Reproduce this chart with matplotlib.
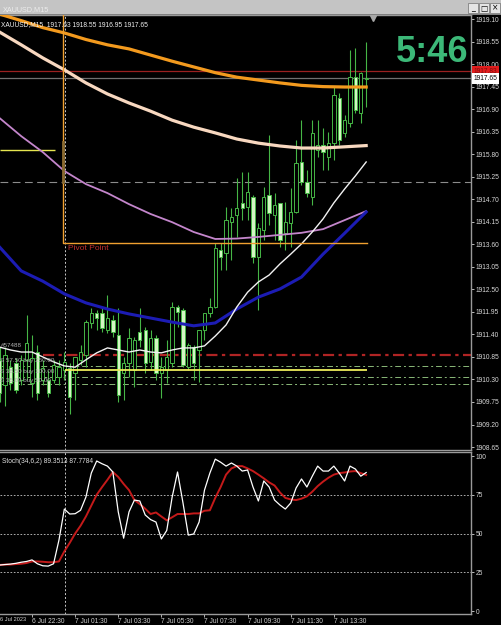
import matplotlib.pyplot as plt
import matplotlib.transforms as mtransforms
from matplotlib.patches import Rectangle
import numpy as np

plt.rcParams['font.family'] = ['Liberation Sans', 'DejaVu Sans']

# XAUUSD M15 candles, bar 0 = 6 Jul 21:00 ... bar 68 = 7 Jul 15:00
opens = [1910.78, 1910.17, 1910.60, 1910.70, 1910.29, 1910.78, 1910.21, 1910.97, 1910.29, 1910.29,
         1910.29, 1910.36, 1910.53, 1910.58, 1910.46, 1910.78, 1910.90, 1911.68, 1911.92, 1911.92,
         1911.51, 1911.75, 1911.39, 1910.46, 1910.70, 1910.53, 1911.46, 1911.51, 1910.73, 1911.31,
         1910.46, 1910.53, 1910.70, 1912.07, 1912.00, 1910.60, 1911.09, 1911.02, 1911.51, 1911.92,
         1912.07, 1913.46, 1913.39, 1914.14, 1914.31, 1914.61, 1914.51, 1914.76, 1913.29, 1913.95,
         1914.80, 1914.31, 1914.61, 1913.88, 1914.12, 1914.39, 1915.61, 1915.12, 1914.76, 1915.90,
         1916.02, 1915.73, 1916.07, 1917.17, 1916.32, 1916.56, 1917.68, 1916.80, 1917.63]
highs = [1911.09, 1911.09, 1910.78, 1910.82, 1910.90, 1911.87, 1911.39, 1911.14, 1910.78, 1910.53,
         1910.78, 1910.78, 1910.97, 1910.70, 1910.85, 1911.14, 1911.75, 1912.04, 1912.00, 1912.04,
         1912.36, 1911.87, 1912.04, 1910.85, 1911.56, 1911.34, 1912.04, 1911.58, 1911.51, 1911.39,
         1910.85, 1911.26, 1912.19, 1912.12, 1912.04, 1911.19, 1911.14, 1911.51, 1911.92, 1912.29,
         1913.63, 1913.63, 1914.51, 1914.49, 1915.22, 1915.37, 1915.37, 1914.80, 1914.12, 1915.00,
         1916.27, 1914.85, 1914.61, 1914.63, 1914.97, 1916.15, 1916.63, 1915.41, 1916.63, 1916.63,
         1916.44, 1916.34, 1917.44, 1917.29, 1916.76, 1918.34, 1918.39, 1917.81, 1918.55]
lows = [1909.75, 1909.65, 1910.04, 1909.97, 1910.17, 1910.29, 1909.87, 1909.80, 1910.17, 1909.87,
        1910.21, 1910.17, 1910.29, 1909.46, 1909.80, 1910.65, 1910.60, 1911.56, 1911.51, 1911.46,
        1911.43, 1911.34, 1909.75, 1909.80, 1910.36, 1910.12, 1911.09, 1910.46, 1910.53, 1910.29,
        1909.85, 1910.21, 1910.60, 1911.58, 1910.60, 1910.53, 1910.29, 1910.24, 1911.26, 1911.82,
        1912.04, 1912.97, 1912.97, 1913.22, 1913.78, 1914.19, 1914.19, 1913.14, 1912.00, 1913.71,
        1914.07, 1913.71, 1913.53, 1913.46, 1913.53, 1914.36, 1915.05, 1914.76, 1914.56, 1915.73,
        1915.41, 1915.41, 1915.66, 1916.02, 1916.22, 1916.46, 1916.80, 1916.56, 1916.95]
closes = [1909.97, 1910.90, 1910.21, 1910.04, 1910.78, 1911.19, 1910.82, 1909.97, 1910.58, 1909.97,
          1910.65, 1910.60, 1910.73, 1909.87, 1910.85, 1910.97, 1911.70, 1911.92, 1911.80, 1911.56,
          1911.80, 1911.46, 1909.92, 1910.70, 1911.31, 1911.26, 1911.26, 1910.70, 1911.31, 1910.46,
          1910.60, 1910.85, 1912.07, 1911.95, 1910.65, 1911.14, 1910.70, 1911.51, 1911.92, 1912.07,
          1913.51, 1913.29, 1914.19, 1914.27, 1914.49, 1914.49, 1914.88, 1913.29, 1914.00, 1914.76,
          1914.36, 1914.56, 1913.71, 1914.14, 1914.39, 1915.59, 1915.12, 1914.85, 1916.32, 1916.02,
          1915.85, 1916.07, 1917.25, 1916.15, 1916.63, 1917.68, 1916.88, 1917.78, 1917.65]

# moving averages read every 4 bars
ma_idx = list(range(0, 69, 4))
ma_orange = [1919.22, 1919.06, 1918.89, 1918.76, 1918.60, 1918.47, 1918.37, 1918.22, 1918.07,
             1917.93, 1917.79, 1917.68, 1917.61, 1917.54, 1917.48, 1917.45, 1917.44, 1917.44]
ma_cream = [1918.78, 1918.47, 1918.15, 1917.86, 1917.54, 1917.27, 1917.05, 1916.85, 1916.63,
            1916.46, 1916.32, 1916.17, 1916.07, 1916.00, 1915.95, 1915.95, 1915.98, 1916.01]
ma_violet = [1916.68, 1916.24, 1915.85, 1915.39, 1915.07, 1914.85, 1914.58, 1914.34, 1914.14,
             1913.90, 1913.73, 1913.74, 1913.78, 1913.83, 1913.88, 1913.97, 1914.19, 1914.41]
ma_blue = [1913.53, 1912.95, 1912.70, 1912.39, 1912.17, 1912.02, 1911.90, 1911.80, 1911.70,
           1911.61, 1911.68, 1912.02, 1912.31, 1912.51, 1912.80, 1913.36, 1913.87, 1914.39]
# fast MA read every 2 bars
fast_idx = list(range(0, 69, 2))
ma_white = [1911.09, 1911.02, 1910.97, 1910.97, 1910.85, 1910.73, 1910.63, 1910.60, 1910.78,
            1910.95, 1911.07, 1911.02, 1910.97, 1911.02, 1910.97, 1910.95, 1911.02, 1911.07,
            1911.07, 1911.12, 1911.36, 1911.63, 1912.07, 1912.43, 1912.68, 1912.85, 1913.12,
            1913.36, 1913.61, 1913.90, 1914.22, 1914.61, 1914.95, 1915.27, 1915.61]

stoch_main = [29.7, 30, 30.3, 30.8, 31.5, 32, 33, 30.5, 29.2, 29, 30.5, 45.8, 65.8, 62.6, 62.8,
              65, 73.5, 89, 96.8, 95, 93.5, 89.7, 64, 47, 64, 71.6, 71, 62, 59, 57.4, 46.5, 52,
              73.5, 89.7, 70, 49, 49.7, 57.4, 78, 89, 98, 96, 93.5, 95.5, 93.5, 90.3, 91, 80, 71,
              83.9, 80, 71.6, 68.4, 65.8, 69.7, 79.4, 85.2, 80, 87, 93.5, 90.3, 90.3, 93.5, 89,
              83.9, 93.5, 91.6, 87, 89.35]
stoch_signal = [29.7, 30, 30, 30.3, 30.5, 31, 32, 32, 31.8, 31.5, 31.5, 32, 38.5, 44, 50, 55, 61,
                68, 75, 80, 84.7, 89.7, 86.5, 82, 78, 71.6, 69, 66, 62.6, 63.6, 61, 58.5, 60.5,
                62.6, 62.6, 62.6, 63, 63, 64.7, 65, 73, 80, 88, 92, 93.5, 93.5, 92, 90.3, 88,
                85.6, 83, 81, 76.5, 73, 72, 71.6, 72.5, 74, 77, 80.6, 83.5, 86, 88, 89, 89.4, 90,
                90.3, 89, 87.78]

price_ticks = [1908.65, 1909.20, 1909.75, 1910.30, 1910.85, 1911.40, 1911.95, 1912.50, 1913.05,
               1913.60, 1914.15, 1914.70, 1915.25, 1915.80, 1916.35, 1916.90, 1917.45, 1918.00,
               1918.55, 1919.10]
stoch_ticks = [0, 25, 50, 75, 100]
time_ticks = [6, 14, 22, 30, 38, 46, 54, 62]
time_labels = ['6 Jul 22:30', '7 Jul 01:30', '7 Jul 03:30', '7 Jul 05:30', '7 Jul 07:30',
               '7 Jul 09:30', '7 Jul 11:30', '7 Jul 13:30']

ask, bid = 1917.83, 1917.65
pivot = 1913.64
day_sep = 12.2

SMALL = 4.8

W, H = 501, 625
def box(x0, y0, x1, y1):
    return [x0 / W, 1 - y1 / H, (x1 - x0) / W, (y1 - y0) / H]

fig = plt.figure(figsize=(W / 100, H / 100), dpi=100)
fig.patch.set_facecolor('black')

ax = fig.add_axes(box(0, 15, 471, 450))
ax2 = fig.add_axes(box(0, 452, 471, 614))
XMIN, XMAX = 0.06, 87.45
for a in (ax, ax2):
    a.set_facecolor('black')
    a.set_xlim(XMIN, XMAX)
    a.spines['left'].set_visible(False)
    for s in ('top', 'right', 'bottom'):
        a.spines[s].set_color('#9a9a9a')
        a.spines[s].set_linewidth(1.0)
    a.yaxis.tick_right()
    a.tick_params(axis='y', colors='#d8d8d8', length=2, width=0.6, labelsize=SMALL, pad=1.5)
    a.axvline(day_sep, color='#c8c8c8', lw=0.7, ls=(0, (2, 2)), zorder=1)

ax.set_ylim(1908.578, 1919.198)
ax.set_xticks([])
ax.set_yticks(price_ticks)
ax.set_yticklabels(['%.2f' % p for p in price_ticks])

# candles
bars = np.arange(len(opens))
o = np.array(opens); c = np.array(closes)
GREEN = '#46b646'
PALE = '#d4f6c4'
ax.vlines(bars, lows, highs, color=GREEN, lw=0.8, zorder=3)
fills = ['black' if cc >= oo else PALE for oo, cc in zip(o, c)]
ax.bar(bars, np.abs(c - o), bottom=np.minimum(o, c), width=0.62, color=fills,
       edgecolor=GREEN, linewidth=0.7, zorder=4)

# horizontal levels
ax.axhline(ask, color='#9a2020', lw=0.9, zorder=2)
ax.axhline(bid, color='#707070', lw=0.9, zorder=2)
ax.axhline(1915.12, color='#8c8c8c', lw=0.8, dashes=(7, 4), zorder=2)
ax.hlines(1915.90, XMIN, 10.3, color='#e6e650', lw=1.0, zorder=2)
ax.hlines(1910.90, 8, XMAX, color='#b02424', lw=1.6, linestyles=(0, (5, 2, 1.5, 2)), zorder=2)
for lvl in (1910.63, 1910.36, 1910.18):
    ax.hlines(lvl, XMIN, XMAX, color='#8ab878', lw=0.7, linestyles=(0, (6, 3, 2, 3)), zorder=2)
ax.hlines(1910.53, day_sep, 68.2, color='#ecec5a', lw=1.3, zorder=6)
ax.plot([11.75, 11.75, 68.2], [1919.198, pivot, pivot], color='#f0a030', lw=1.0, zorder=6)
ax.plot([11.75, 11.75], [1916.10, 1915.12], color='#8a6a30', lw=2.0, zorder=6)
ax.text(12.7, pivot - 0.14, 'Pivot Point', color='#c03030', fontsize=6.0, va='center', zorder=7)

# moving averages
ax.plot(ma_idx, ma_orange, color='#f39a1e', lw=2.3, zorder=5)
ax.plot(ma_idx, ma_cream, color='#f8d8c0', lw=2.3, zorder=5)
ax.plot(ma_idx, ma_violet, color='#c486cc', lw=1.3, zorder=5)
ax.plot(ma_idx, ma_blue, color='#1c1cb4', lw=2.2, zorder=5)
ax.plot(fast_idx, ma_white, color='#f2f2f2', lw=1.0, zorder=5)

# order line labels on the left
for y, t in ((1911.12, '#57488'), (1910.76, 'S 57.50 buy 250.00'),
             (1910.50, 'S 38.50 buy 100.00'), (1910.27, 'S 35.09 buy 50.00')):
    ax.text(0.15, y, t, color='#b0b0b0', fontsize=4.5, va='center', zorder=7)

# bid / ask boxes on the price scale
blend = mtransforms.blended_transform_factory(ax.transAxes, ax.transData)
ax.text(1.006, ask, '%.2f' % ask, transform=blend, fontsize=SMALL, color='#7a0c0c', va='center',
        ha='left', clip_on=False, zorder=8,
        bbox=dict(boxstyle='square,pad=0.25', fc='#e01c1c', ec='none'))
ax.text(1.006, bid, '%.2f' % bid, transform=blend, fontsize=SMALL, color='black', va='center',
        ha='left', clip_on=False, zorder=9,
        bbox=dict(boxstyle='square,pad=0.25', fc='white', ec='none'))

# chart shift marker
ax.plot([69.3], [1919.13], marker='v', color='#a8a8a8', ms=4, clip_on=False, zorder=8)

# stochastic panel
ax2.set_ylim(-1.9, 102.6)
ax2.set_yticks(stoch_ticks)
ax2.set_yticklabels([str(v) for v in stoch_ticks])
for lvl in (25, 50, 75):
    ax2.axhline(lvl, color='#c8c8c8', lw=0.6, ls=(0, (2, 2)), zorder=1)
ax2.plot(bars, stoch_signal, color='#c41a1a', lw=1.4, zorder=3)
ax2.plot(bars, stoch_main, color='white', lw=0.9, zorder=4)
ax2.set_xticks(time_ticks)
ax2.set_xticklabels(time_labels)
ax2.tick_params(axis='x', colors='#d0d0d0', length=2, width=0.6, labelsize=SMALL, pad=1)
for lbl in ax2.get_xticklabels():
    lbl.set_ha('left')
fig.text(0.5 / W, 1 - 617 / H, '6 Jul 2023', ha='left', va='top', color='#d0d0d0',
         fontsize=4.1)

# texts
fig.text(2 / W, 1 - 463 / H, 'Stoch(34,6,2) 89.3513 87.7784', color='#e0e0e0', fontsize=SMALL)
fig.text(1 / W, 1 - 26 / H, 'XAUUSD,M15  1917.63 1918.55 1916.95 1917.65', color='#f0f0f0',
         fontsize=SMALL)
fig.text(468 / W, 1 - 62 / H, '5:46', color='#3cb878', fontsize=26, fontweight='bold',
         ha='right', va='baseline')

# window title bar
fig.add_artist(Rectangle((0, 1 - 14 / H), 1, 14 / H, transform=fig.transFigure,
                         facecolor='#c4c4c4', edgecolor='none'))
fig.add_artist(Rectangle((0, 1 - 15 / H), 1, 1 / H, transform=fig.transFigure,
                         facecolor='#808080', edgecolor='none'))
fig.text(3 / W, 1 - 11 / H, 'XAUUSD,M15', color='#ececec', fontsize=5.2)
for j, g in enumerate(['_', '\u25a1', '\u00d7']):
    x0 = 468 + j * 11
    fig.add_artist(Rectangle((x0 / W, 1 - 13 / H), 10 / W, 10 / H, transform=fig.transFigure,
                             facecolor='#e4e4e4', edgecolor='#707070', lw=0.5))
    fig.text((x0 + 5) / W, 1 - 8 / H, g, color='black', fontsize=5.5, ha='center', va='center',
             family=['DejaVu Sans'])

fig.savefig('out.png', dpi=100, facecolor='black')
